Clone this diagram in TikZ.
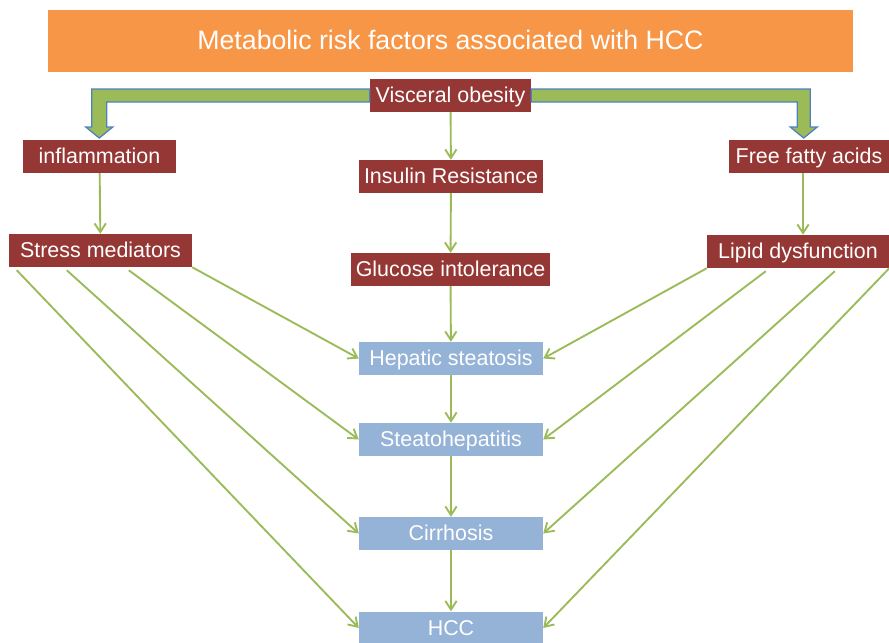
\documentclass[tikz,border=0pt]{standalone}
\usepackage{fontspec}
\setmainfont{Liberation Sans}
\usetikzlibrary{arrows.meta,calc,positioning}
\definecolor{bannerorange}{HTML}{F79646}
\definecolor{boxred}{HTML}{953735}
\definecolor{boxblue}{HTML}{95B3D7}
\definecolor{linkgreen}{HTML}{9BBB59}
\definecolor{fatblue}{HTML}{4F81BD}

\begin{document}
\begin{tikzpicture}[x=0.03cm,y=-0.03cm,
  redbox/.style={fill=boxred,text=white,inner xsep=0pt,minimum height=0.99cm,text height=13.6pt,text depth=1.6pt,font=\fontsize{18.3}{22}\selectfont},
  bluebox/.style={redbox,fill=boxblue,minimum width=5.52cm},
  link/.style={color=linkgreen,line width=1.6pt,-{Straight Barb[length=2.6mm,width=3.4mm]}},
  fatarrow/.style={fill=linkgreen,draw=fatblue,line width=1.1pt,line join=miter}]
\useasboundingbox (0,0) rectangle (889,643);
\node[fill=bannerorange,text=white,minimum width=24.15cm,minimum height=1.86cm,text height=16.5pt,text depth=2pt,font=\fontsize{22.8}{26}\selectfont] (title) at (450.5,41) {Metabolic risk factors associated with HCC};
% causes
\node[redbox,minimum width=4.83cm] (visceral) at (450.5,95.5) {Visceral obesity};
\node[redbox,minimum width=4.59cm] (inflame) at (99.5,156.5) {inflammation};
\node[redbox,minimum width=4.8cm] (ffa) at (809,156.5) {Free fatty acids};
\node[redbox,minimum width=5.52cm] (insulin) at (451,176.5) {Insulin Resistance};
\node[redbox,minimum width=5.49cm] (stress) at (100.5,250.5) {Stress mediators};
\node[redbox,minimum width=5.97cm] (glucose) at (450.5,269.5) {Glucose intolerance};
\node[redbox,minimum width=5.46cm] (lipid) at (798,251.5) {Lipid dysfunction};
% liver stages
\node[bluebox] (hepatic) at (451,358.5) {Hepatic steatosis};
\node[bluebox] (steato) at (451,439.5) {Steatohepatitis};
\node[bluebox] (cirrhosis) at (451,533.5) {Cirrhosis};
\node[bluebox] (hcc) at (451,628) {HCC};
% bent block arrows
\draw[fatarrow] ($(visceral.west)+(0,-6.5)$) -| ++(-278,38) -- ++(-6,0) -- ++(13.5,11) -- ++(13.5,-11) -- ++(-6,0) |- ($(visceral.west)+(0,6.5)$) -- cycle;
\draw[fatarrow] ($(visceral.east)+(0,-6.5)$) -| ++(279,38) -- ++(7,0) -- ++(-13.5,11) -- ++(-13.5,-11) -- ++(7,0) |- ($(visceral.east)+(0,6.5)$) -- cycle;
\coordinate (ffadown) at ($(ffa.south)+(-6,0)$);
\path[link]
(visceral) edge (insulin)
(insulin) edge (glucose)
(glucose) edge (hepatic)
(hepatic) edge (steato)
(steato) edge (cirrhosis)
(cirrhosis) edge (hcc)
(inflame) edge (stress)
(ffadown) edge (ffadown |- lipid.north)
;
\path[link]
(stress.south east) edge (hepatic.west)
($(stress.south west)+(120,3)$) edge (steato.west)
($(stress.south west)+(58,3)$) edge (cirrhosis.west)
($(stress.south west)+(8,3)$) edge (hcc.west)
(lipid.south west) edge (hepatic.east)
($(lipid.south west)+(59,3)$) edge (steato.east)
($(lipid.south west)+(128,3)$) edge (cirrhosis.east)
(lipid.south east) edge (hcc.east)
;
\end{tikzpicture}
\end{document}
